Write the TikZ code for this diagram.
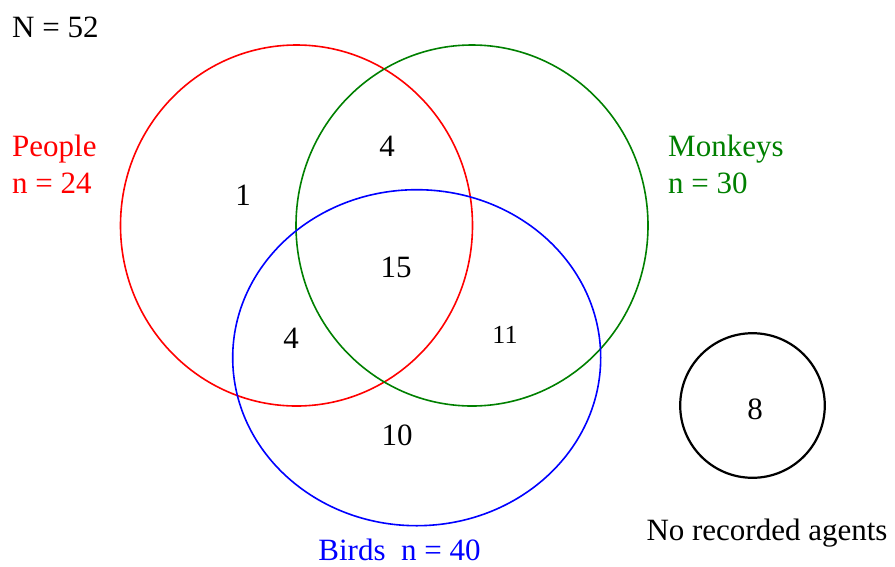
\documentclass[tikz,border=0pt]{standalone}
\usepackage{fontspec}
\setmainfont{Liberation Serif}
\usepackage{tikz}
\usetikzlibrary{positioning}
\definecolor{people}{HTML}{FF0000}
\definecolor{monkey}{HTML}{008000}
\definecolor{bird}{HTML}{0000FF}
\tikzset{
  lbl/.style={font=\fontsize{31}{37}\selectfont,inner sep=0pt},
  cnt/.style={lbl,anchor=base},
  set/.style={line width=1.6pt}
}

\begin{document}
\begin{tikzpicture}[x=1pt,y=-1pt]
  \useasboundingbox (0,0) rectangle (895,566);

  % sets
  \draw[set,people] (296.5,225.5) ellipse [x radius=176, y radius=180.5];
  \draw[set,monkey] (472,225.5) ellipse [x radius=176, y radius=180.5];
  \draw[set,bird] (416.7,357.7) ellipse [x radius=184, y radius=168];
  \draw[line width=2.2pt] (752.5,405.5) circle [radius=72.3];

  % totals and set names
  \node[lbl,anchor=base west] (total) at (12,37) {N = 52};
  \node[lbl,people,anchor=base west] (peoplename) at (12,156) {People};
  \node[lbl,people,anchor=base west] (peoplen) at (12,193) {n = 24};
  \node[lbl,monkey,anchor=base west] (monkeyname) at (668,156) {Monkeys};
  \node[lbl,monkey,anchor=base west] (monkeyn) at (668,193) {n = 30};
  \node[lbl,bird,anchor=base] (birdname) at (399.5,560) {Birds\ \ n = 40};
  \node[lbl,anchor=base] (nonename) at (767,540) {No recorded agents};

  % counts
  \node[cnt] (ponly) at (243,205) {1};
  \node[cnt] (pm) at (387,156) {4};
  \node[cnt] (pmb) at (396,277) {15};
  \node[cnt] (pb) at (291,348) {4};
  \node[cnt,font=\fontsize{26}{31}\selectfont] (mb) at (505,343) {11};
  \node[cnt] (bonly) at (397,445) {10};
  \node[cnt] (none) at (755,419) {8};
\end{tikzpicture}
\end{document}
